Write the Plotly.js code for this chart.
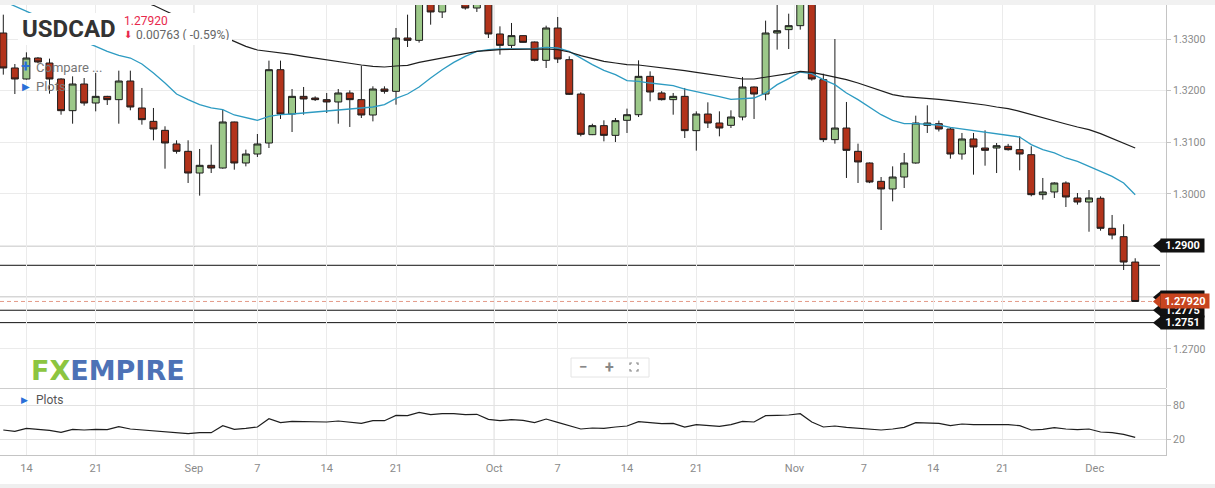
<!DOCTYPE html>
<html><head><meta charset="utf-8">
<script src="https://cdn.plot.ly/plotly-3.0.1.min.js"></script>
<style>html,body{margin:0;padding:0;background:#fff}#chart{width:1215px;height:488px}</style>
</head><body><div id="chart"></div>
<script>
// ---------------- data ----------------
const dates = [
'2020-08-12','2020-08-13','2020-08-14','2020-08-16','2020-08-17','2020-08-18','2020-08-19','2020-08-20','2020-08-21','2020-08-23','2020-08-24','2020-08-25','2020-08-26','2020-08-27','2020-08-28','2020-08-30','2020-08-31',
'2020-09-01','2020-09-02','2020-09-03','2020-09-04','2020-09-06','2020-09-07','2020-09-08','2020-09-09','2020-09-10','2020-09-11','2020-09-13','2020-09-14','2020-09-15','2020-09-16','2020-09-17','2020-09-18','2020-09-20','2020-09-21','2020-09-22','2020-09-23','2020-09-24','2020-09-25','2020-09-27','2020-09-28','2020-09-29','2020-09-30',
'2020-10-01','2020-10-02','2020-10-04','2020-10-05','2020-10-06','2020-10-07','2020-10-08','2020-10-09','2020-10-11','2020-10-12','2020-10-13','2020-10-14','2020-10-15','2020-10-16','2020-10-18','2020-10-19','2020-10-20','2020-10-21','2020-10-22','2020-10-23','2020-10-25','2020-10-26','2020-10-27','2020-10-28','2020-10-29','2020-10-30',
'2020-11-01','2020-11-02','2020-11-03','2020-11-04','2020-11-05','2020-11-06','2020-11-08','2020-11-09','2020-11-10','2020-11-11','2020-11-12','2020-11-13','2020-11-15','2020-11-16','2020-11-17','2020-11-18','2020-11-19','2020-11-20','2020-11-22','2020-11-23','2020-11-24','2020-11-25','2020-11-26','2020-11-27','2020-11-29','2020-11-30',
'2020-12-01','2020-12-02','2020-12-03','2020-12-04'];

const openP = [
1.33116,1.32439,1.32226,1.32632,1.32535,1.32226,1.31613,1.32129,1.31761,1.31890,
1.31826,1.32187,1.31665,1.31406,1.31232,1.30968,1.30826,1.30406,1.30555,1.30503,
1.31394,1.30600,1.30774,1.30987,1.32406,1.31548,1.31890,1.31858,1.31826,1.31781,
1.31955,1.31826,1.31529,1.32032,1.31987,1.33019,1.32974,1.33720,1.33523,1.33820,
1.33780,1.33600,1.33850,1.33097,1.32877,1.33065,1.32942,1.32587,1.33213,1.32600,
1.31935,1.31148,1.31323,1.31135,1.31426,1.31535,1.32277,1.31955,1.31826,1.31890,
1.31226,1.31548,1.31374,1.31329,1.31490,1.32071,1.31935,1.33116,1.33181,1.33258,
1.33720,1.32213,1.31052,1.31277,1.30826,1.30600,1.30245,1.30097,1.30329,1.30600,
1.31329,1.31361,1.31258,1.30774,1.31065,1.30890,1.30890,1.30923,1.30858,1.30761,
1.29987,1.30039,1.30213,1.29923,1.29845,1.29917,1.29336,1.29174,1.28683];
const highP = [
1.33471,1.32516,1.32742,1.32650,1.32620,1.32240,1.32277,1.32245,1.32342,1.31900,
1.32387,1.32387,1.32052,1.31665,1.31310,1.31039,1.31039,1.30871,1.30955,1.31632,
1.31400,1.30858,1.31161,1.32581,1.32581,1.32032,1.32071,1.31890,1.31955,1.32032,
1.32006,1.32484,1.32084,1.32084,1.33213,1.33471,1.33850,1.34180,1.33950,1.33920,
1.33950,1.34050,1.34200,1.33245,1.33310,1.33070,1.32950,1.33258,1.33426,1.32665,
1.31968,1.31360,1.31426,1.31471,1.31652,1.32587,1.32374,1.31990,1.31955,1.32052,
1.31600,1.31774,1.31600,1.31620,1.32265,1.32080,1.33355,1.33750,1.33490,1.33800,
1.33900,1.32329,1.33000,1.31781,1.30974,1.30610,1.30329,1.30535,1.30794,1.31516,
1.31716,1.31420,1.31290,1.31181,1.31181,1.31232,1.30987,1.30970,1.31116,1.30923,
1.30310,1.30226,1.30245,1.30019,1.30077,1.29955,1.29594,1.29414,1.28756];
const lowP = [
1.32310,1.31935,1.32213,1.32530,1.31942,1.31535,1.31361,1.31710,1.31600,1.31723,
1.31361,1.31620,1.31342,1.31039,1.30490,1.30781,1.30213,1.29968,1.30406,1.30490,
1.30471,1.30535,1.30716,1.30890,1.31452,1.31200,1.31535,1.31800,1.31568,1.31361,
1.31297,1.31471,1.31406,1.31942,1.31729,1.32845,1.32930,1.33277,1.33406,1.33720,
1.33568,1.33523,1.33019,1.32697,1.32826,1.32930,1.32568,1.32439,1.32535,1.31916,
1.31116,1.31140,1.31019,1.31006,1.31181,1.31490,1.31794,1.31810,1.31535,1.31084,
1.30839,1.31277,1.31116,1.31277,1.31426,1.31452,1.31813,1.32794,1.32806,1.33181,
1.32194,1.31006,1.30974,1.30310,1.30213,1.30210,1.29303,1.29858,1.30116,1.30587,
1.31181,1.31210,1.30684,1.30665,1.30374,1.30548,1.30406,1.30840,1.30458,1.29955,
1.29890,1.29923,1.29748,1.29794,1.29270,1.29290,1.29123,1.28529,1.27920];
const closeP = [
1.32439,1.32226,1.32632,1.32555,1.32226,1.31613,1.32129,1.31761,1.31890,1.31826,
1.32187,1.31684,1.31439,1.31258,1.30987,1.30826,1.30406,1.30555,1.30503,1.31394,
1.30600,1.30774,1.30968,1.32406,1.31548,1.31890,1.31839,1.31826,1.31781,1.31955,
1.31826,1.31529,1.32032,1.31987,1.33019,1.32974,1.33720,1.33523,1.33820,1.33780,
1.33600,1.33850,1.33097,1.32877,1.33065,1.32935,1.32587,1.33213,1.32613,1.31929,
1.31155,1.31323,1.31135,1.31420,1.31535,1.32277,1.31974,1.31826,1.31890,1.31226,
1.31548,1.31374,1.31277,1.31490,1.32071,1.31935,1.33116,1.33161,1.33258,1.33720,
1.32226,1.31052,1.31277,1.30845,1.30620,1.30232,1.30097,1.30329,1.30600,1.31374,
1.31374,1.31258,1.30774,1.31065,1.30910,1.30845,1.30935,1.30858,1.30774,1.29987,
1.30039,1.30213,1.29942,1.29845,1.29923,1.29336,1.29206,1.28683,1.27920];

const maFast = [
1.33735,1.33639,1.33542,1.33439,1.33323,1.33200,1.33071,1.32948,1.32858,1.32761,
1.32684,1.32632,1.32516,1.32342,1.32148,1.31935,1.31826,1.31729,1.31665,1.31632,
1.31529,1.31471,1.31426,1.31503,1.31535,1.31548,1.31568,1.31587,1.31613,1.31632,
1.31658,1.31671,1.31684,1.31729,1.31852,1.31935,1.32071,1.32245,1.32406,1.32548,
1.32665,1.32761,1.32794,1.32806,1.32813,1.32819,1.32813,1.32839,1.32826,1.32761,
1.32632,1.32503,1.32394,1.32310,1.32194,1.32181,1.32148,1.32116,1.32097,1.32032,
1.31987,1.31935,1.31884,1.31832,1.31845,1.31858,1.31955,1.32116,1.32232,1.32361,
1.32329,1.32213,1.32116,1.31955,1.31826,1.31684,1.31535,1.31426,1.31361,1.31361,
1.31348,1.31335,1.31290,1.31258,1.31232,1.31200,1.31168,1.31142,1.31103,1.30955,
1.30858,1.30794,1.30697,1.30632,1.30535,1.30439,1.30342,1.30213,1.29987];
const maSlow = [
null,null,null,null,null,null,null,null,null,null,null,null,
1.33729,1.33652,1.33548,1.33439,1.33342,1.33245,1.33148,1.33039,
1.32942,1.32858,1.32787,1.32761,1.32729,1.32703,1.32665,1.32632,1.32587,1.32555,
1.32529,1.32497,1.32471,1.32458,1.32477,1.32490,1.32548,1.32587,1.32632,1.32677,
1.32716,1.32761,1.32781,1.32794,1.32800,1.32806,1.32806,1.32806,1.32794,1.32748,
1.32677,1.32619,1.32568,1.32535,1.32503,1.32497,1.32471,1.32452,1.32426,1.32387,
1.32355,1.32323,1.32290,1.32245,1.32226,1.32226,1.32258,1.32290,1.32329,1.32374,
1.32355,1.32310,1.32265,1.32213,1.32148,1.32071,1.32000,1.31923,1.31884,1.31871,
1.31852,1.31832,1.31806,1.31781,1.31755,1.31723,1.31684,1.31652,1.31600,1.31535,
1.31471,1.31406,1.31355,1.31297,1.31245,1.31168,1.31071,1.30987,1.30890];

const osc = [
36.3,34.0,39.2,38.0,35.7,32.2,37.5,36.3,37.5,36.9,
42.1,38.0,36.3,34.5,32.8,31.6,29.9,31.6,31.6,43.9,
37.5,39.2,41.5,56.1,49.1,51.4,50.9,50.9,50.3,52.0,
50.3,47.9,52.6,52.6,61.9,61.4,67.2,63.1,64.8,64.8,
63.1,63.7,54.9,52.6,54.4,53.2,49.1,55.5,49.7,43.3,
38.0,39.8,39.2,41.5,43.3,50.9,48.5,47.4,47.9,41.5,
45.6,43.9,42.7,45.6,51.4,50.3,61.4,61.9,62.5,64.8,
50.3,41.5,43.3,41.0,39.2,37.5,36.3,38.0,41.0,49.1,
49.1,47.9,43.9,46.8,45.6,45.6,46.2,45.6,43.9,36.3,
37.5,40.4,38.0,36.9,38.0,32.8,31.6,28.7,23.5];

const weekTickDates  = ['2020-08-14','2020-08-21','2020-09-07','2020-09-14','2020-09-21','2020-10-07','2020-10-14','2020-10-21','2020-11-07','2020-11-14','2020-11-21'];
const weekTickLabels = ['14','21','7','14','21','7','14','21','7','14','21'];
const monthTickDates  = ['2020-09-01','2020-10-01','2020-11-01','2020-12-01'];
const monthTickLabels = ['Sep','Oct','Nov','Dec'];

const priceTicks = [1.27,1.28,1.29,1.30,1.31,1.32,1.33];
const priceTickLabels = ['1.2700','','','1.3000','1.3100','1.3200','1.3300'];
const oscTicks = [20,80];

const levelValues = [1.2900, 1.2862, 1.2800, 1.2775, 1.2751];
const levelLabels = ['1.2900', '', '', '1.2775', '1.2751'];
const lastPrice = 1.27920;
const lastPriceLabel = '1.27920';
const changeLabel = '0.00763 ( -0.59%)';
const symbol = 'USDCAD';

// ---------------- helpers ----------------
const W = 1215, H = 488;
const px = x => x / W;
const py = y => 1 - y / H;
const idx = dates.map((d, i) => i);
function weekPos(d){ const k = dates.indexOf(d); if (k >= 0) return k; return dates.findIndex(x => x > d) - 0.5; }
function monthPos(d){ return dates.findIndex(x => x >= d) - 0.5; }
const weekVals = weekTickDates.map(weekPos);
const monthVals = monthTickDates.map(monthPos);

const XR = 1166;          // right edge of plot area (px)
const yMainRange = [1.26245, 1.33658];
const mainTopPx = 5, mainBotPx = 388;
const pxPerUnit = (mainBotPx - mainTopPx) / (yMainRange[1] - yMainRange[0]);

// ---------------- traces ----------------
const candles = {
  type: 'candlestick', x: idx, open: openP, high: highP, low: lowP, close: closeP,
  xaxis: 'x', yaxis: 'y',
  increasing: {line: {color: '#1c1c1c', width: 1}, fillcolor: '#9cc889'},
  decreasing: {line: {color: '#1c1c1c', width: 1}, fillcolor: '#b2331b'},
  whiskerwidth: 0, hoverinfo: 'skip', showlegend: false
};
const fast = {type:'scatter', mode:'lines', x: idx, y: maFast, xaxis:'x', yaxis:'y',
  line:{color:'#2d9bc2', width:1.3}, hoverinfo:'skip', showlegend:false};
const slow = {type:'scatter', mode:'lines', x: idx, y: maSlow, xaxis:'x', yaxis:'y',
  line:{color:'#1e1e1e', width:1.2}, hoverinfo:'skip', showlegend:false};
const oscTrace = {type:'scatter', mode:'lines', x: idx, y: osc, xaxis:'x', yaxis:'y2',
  line:{color:'#1e1e1e', width:1.2}, hoverinfo:'skip', showlegend:false};

// ---------------- shapes ----------------
const shapes = [];
shapes.push({type:'rect', xref:'paper', yref:'paper', x0:0, x1:1, y0:py(5), y1:1, fillcolor:'#f1f1f1', line:{width:0}, layer:'below'});
shapes.push({type:'rect', xref:'paper', yref:'paper', x0:0, x1:1, y0:0, y1:py(484), fillcolor:'#efefef', line:{width:0}, layer:'below'});
monthVals.forEach(v => shapes.push({type:'line', xref:'x', yref:'paper', x0:v, x1:v, y0:py(455), y1:py(5),
  line:{color:'#d3d3d3', width:1}, layer:'between'}));
shapes.push({type:'line', xref:'paper', yref:'paper', x0:0, x1:px(XR), y0:py(388.5), y1:py(388.5), line:{color:'#cdcdcd', width:1}});
levelValues.forEach(v => shapes.push({type:'line', xref:'paper', yref:'y', x0:0, x1:px(1160), y0:v, y1:v,
  line:{color:'#111', width:1}, layer:'below'}));
shapes.push({type:'line', xref:'paper', yref:'y', x0:0, x1:px(1160), y0:lastPrice, y1:lastPrice,
  line:{color:'#e39a88', width:1, dash:'4px,3px'}, layer:'below'});
// header backdrop
shapes.push({type:'rect', xref:'paper', yref:'paper', x0:px(18), x1:px(232), y0:py(45), y1:py(13), fillcolor:'#ffffff', line:{width:0}, layer:'above'});

// tag pointers (small triangles left of each label box)
function pointer(v, xLeft, halfPx){
  const d = halfPx / pxPerUnit;
  return `M ${px(xLeft - 7)},${v} L ${px(xLeft + 1)},${v + d} L ${px(xLeft + 1)},${v - d} Z`;
}
const tagOrder = [2, 3, 4, 0];
tagOrder.forEach(k => shapes.push({type:'path', xref:'paper', yref:'y', path: pointer(levelValues[k], 1160, 6.5),
  fillcolor:'#111', line:{width:0}, layer:'above'}));
shapes.push({type:'path', xref:'paper', yref:'y', path: pointer(lastPrice, 1160, 7), fillcolor:'#c8451f', line:{width:0}, layer:'above'});

// zoom buttons box
shapes.push({type:'rect', xref:'paper', yref:'paper', x0:px(571), x1:px(649), y0:py(377), y1:py(358), fillcolor:'rgba(255,255,255,0.9)', line:{color:'#e4e4e4', width:1}, layer:'above'});
(function(){
  const cx = 634, cy = 367, s = 4, t = 2;
  const P = (x, y) => `${px(x)},${py(y)}`;
  let p = '';
  p += `M ${P(cx - s, cy - s + t)} L ${P(cx - s, cy - s)} L ${P(cx - s + t, cy - s)} `;
  p += `M ${P(cx + s - t, cy - s)} L ${P(cx + s, cy - s)} L ${P(cx + s, cy - s + t)} `;
  p += `M ${P(cx - s, cy + s - t)} L ${P(cx - s, cy + s)} L ${P(cx - s + t, cy + s)} `;
  p += `M ${P(cx + s - t, cy + s)} L ${P(cx + s, cy + s)} L ${P(cx + s, cy + s - t)}`;
  shapes.push({type:'path', xref:'paper', yref:'paper', path:p, line:{color:'#888', width:1.2}, layer:'above'});
})();

// ---------------- annotations ----------------
const annotations = [];
tagOrder.forEach(k => {
  annotations.push({xref:'paper', yref:'y', x:px(1160), y:levelValues[k], text:levelLabels[k] || ' ', showarrow:false,
    xanchor:'left', yanchor:'middle', width:43, height:13, borderpad:0, bgcolor:'#111', align:'center',
    font:{family:'Roboto', size:11, color:'#fff', weight:'bold'}});
});
annotations.push({xref:'paper', yref:'y', x:px(1160), y:lastPrice, text:lastPriceLabel, showarrow:false,
  xanchor:'left', yanchor:'middle', width:48, height:14, borderpad:0, bgcolor:'#c8451f', align:'center',
  font:{family:'Roboto', size:11, color:'#fff', weight:'bold'}});

const A = (x, y, text, font, extra) => Object.assign({xref:'paper', yref:'paper', x:px(x), y:py(y), text, showarrow:false,
  xanchor:'left', yanchor:'middle', font}, extra || {});
annotations.push(A(20, 28.5, symbol, {family:'Roboto', size:24, color:'#333', weight:'bold'}));
annotations.push(A(123, 20, lastPriceLabel, {family:'Roboto', size:12, color:'#e8284c'}, {height:11, borderpad:0}));
annotations.push(A(123, 34.5, '⬇', {family:'DejaVu Sans', size:10, color:'#e8284c'}, {height:11, borderpad:0}));
annotations.push(A(135, 34.5, changeLabel, {family:'Roboto', size:12, color:'#666'}, {height:11, borderpad:0}));
annotations.push(A(19, 66, '+', {family:'Roboto', size:17, color:'#2a6fd8', weight:'bold'}));
annotations.push(A(34, 67, 'Compare ...', {family:'Roboto', size:13, color:'#777'}));
annotations.push(A(20, 86, '▶', {family:'DejaVu Sans', size:10, color:'#2a6fd8'}));
annotations.push(A(34, 86, 'Plots', {family:'Roboto', size:13, color:'#777'}));
annotations.push(A(19, 400, '▶', {family:'DejaVu Sans', size:9, color:'#2a6fd8'}));
annotations.push(A(34, 400, 'Plots', {family:'Roboto', size:12, color:'#555'}));
annotations.push(A(29, 370, "<span style='color:#8cc540'>FX</span><span style='color:#4d72b6'>EMPIRE</span>",
  {family:'DejaVu Sans', size:27, weight:'bold'}));
annotations.push(A(583, 367, '−', {family:'Roboto', size:15, color:'#888', weight:'bold'}, {xanchor:'center'}));
annotations.push(A(609, 367, '+', {family:'Roboto', size:16, color:'#888', weight:'bold'}, {xanchor:'center'}));

// ---------------- layout ----------------
const layout = {
  width: W, height: H, margin:{l:0, r:0, t:0, b:0}, autosize:false,
  paper_bgcolor:'#ffffff', plot_bgcolor:'rgba(0,0,0,0)', showlegend:false, hovermode:false,
  dragmode:false, boxgap:0.4, boxgroupgap:0,
  xaxis: {domain:[0, px(XR)], range:[-3.3/11.55, (XR - 3.3)/11.55], anchor:'y2',
    tickmode:'array', tickvals: weekVals.concat(monthVals), ticktext: weekTickLabels.concat(monthTickLabels),
    showgrid:true, gridcolor:'#ebebeb', gridwidth:1, zeroline:false,
    showline:true, linecolor:'#c4c4c4', linewidth:1,
    ticks:'outside', ticklen:3, tickcolor:'rgba(0,0,0,0)',
    tickfont:{family:'Roboto', size:11, color:'#8a8a8a'}, rangeslider:{visible:false}, fixedrange:true},
  yaxis: {domain:[py(mainBotPx), py(mainTopPx)], range: yMainRange, anchor:'x', side:'right',
    tickmode:'array', tickvals: priceTicks, ticktext: priceTickLabels,
    showgrid:true, gridcolor:'#ebebeb', zeroline:false,
    showline:true, linecolor:'#c4c4c4', linewidth:1,
    ticks:'outside', ticklen:4, tickcolor:'#c4c4c4',
    tickfont:{family:'Roboto', size:10.5, color:'#8a8a8a'}, fixedrange:true},
  yaxis2: {domain:[py(455), py(389)], range:[-7.46, 108], anchor:'x', side:'right',
    tickmode:'array', tickvals: oscTicks,
    showgrid:true, gridcolor:'#e2e2e2', zeroline:false,
    showline:true, linecolor:'#c4c4c4', linewidth:1,
    ticks:'outside', ticklen:4, tickcolor:'#c4c4c4',
    tickfont:{family:'Roboto', size:10.5, color:'#8a8a8a'}, fixedrange:true},
  shapes, annotations
};

Plotly.newPlot('chart', [candles, fast, slow, oscTrace], layout, {displayModeBar:false, staticPlot:true});
</script>
</body></html>
